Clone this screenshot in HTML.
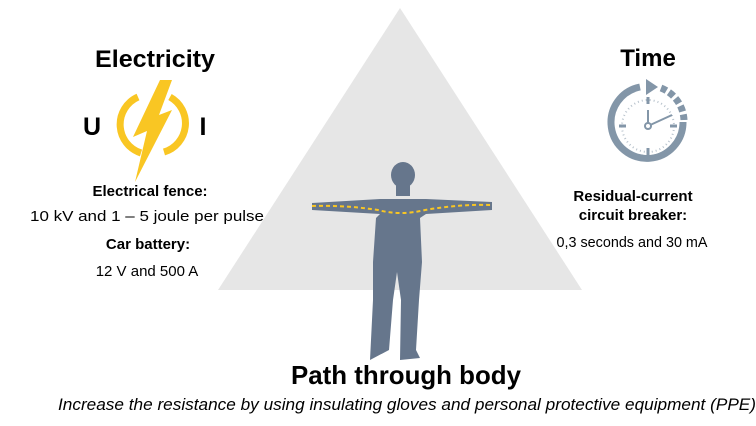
<!DOCTYPE html>
<html><head><style>body{margin:0;background:#fff}svg{display:block}</style></head><body>
<svg width="756" height="426" viewBox="0 0 756 426" xmlns="http://www.w3.org/2000/svg" font-family="Liberation Sans, Arial, sans-serif">
<polygon points="400,8 582,290 218,290" fill="#e6e6e6"/>
<!-- Electricity -->
<text x="155" y="67" font-size="24" font-weight="bold" text-anchor="middle" textLength="120" lengthAdjust="spacingAndGlyphs">Electricity</text>
<text x="92" y="135" font-size="25" font-weight="bold" text-anchor="middle">U</text>
<text x="203" y="135" font-size="25" font-weight="bold" text-anchor="middle">I</text>
<path d="M138,97 A30,30 0 0 0 141,153 M170,97 A30,30 0 0 1 164,152" fill="none" stroke="#f9c623" stroke-width="7"/>
<polygon points="160,80 172,80 159,115 172,110 135,182 147,131 133,137" fill="#f9c623"/>
<text x="150" y="196" font-size="15" font-weight="bold" text-anchor="middle">Electrical fence:</text>
<text x="147" y="221" font-size="15" text-anchor="middle" textLength="234" lengthAdjust="spacingAndGlyphs">10 kV and 1 – 5 joule per pulse</text>
<text x="148" y="249" font-size="15" font-weight="bold" text-anchor="middle">Car battery:</text>
<text x="147" y="276" font-size="15" text-anchor="middle">12 V and 500 A</text>
<!-- Time -->
<text x="648" y="66" font-size="24" font-weight="bold" text-anchor="middle">Time</text>
<path d="M683,122 A36,36 0 1 1 640,87" fill="none" stroke="#8396a8" stroke-width="7"/>
<polygon points="646,79 658,87 646,95" fill="#8396a8"/>
<path d="M661,88 A36,36 0 0 1 684,120" fill="none" stroke="#8396a8" stroke-width="7" stroke-dasharray="6,3"/>
<circle cx="648" cy="126" r="29" fill="#fff"/>
<circle cx="648" cy="126" r="26" fill="none" stroke="#b7c2cc" stroke-width="2" stroke-dasharray="1,3"/>
<g stroke="#8396a8" stroke-width="3"><line x1="648" y1="97" x2="648" y2="104"/><line x1="648" y1="148" x2="648" y2="155"/><line x1="619" y1="126" x2="626" y2="126"/><line x1="670" y1="126" x2="677" y2="126"/></g>
<g stroke="#8396a8" stroke-width="2"><line x1="648" y1="126" x2="648" y2="110"/><line x1="648" y1="126" x2="672" y2="115"/></g>
<circle cx="648" cy="126" r="3" fill="#fff" stroke="#8396a8" stroke-width="2"/>
<text x="633" y="201" font-size="15" font-weight="bold" text-anchor="middle">Residual-current</text>
<text x="633" y="220" font-size="15" font-weight="bold" text-anchor="middle">circuit breaker:</text>
<text x="632" y="247" font-size="15" text-anchor="middle" textLength="151" lengthAdjust="spacingAndGlyphs">0,3 seconds and 30 mA</text>
<!-- Person -->
<g fill="#66768c">
<ellipse cx="403" cy="175" rx="12" ry="13"/>
<rect x="396" y="184" width="14" height="12"/>
<path d="M312,203 L380,199 L426,199 L492,202 L492,210 L426,214 L420,218 L422,262 L419,300 L416,350 L420,358 L400,360 L401,300 L397,272 L393,300 L389,350 L370,360 L373,300 L373,262 L376,218 L380,214 L312,210 Z"/>
</g>
<path d="M312,206 Q345,205 378,210 Q400,216 425,210 Q460,204 492,205" fill="none" stroke="#f9c623" stroke-width="2" stroke-dasharray="4,3"/>
<text x="406" y="384" font-size="26" font-weight="bold" text-anchor="middle" textLength="230" lengthAdjust="spacingAndGlyphs">Path through body</text>
<text x="407" y="410" font-size="17" font-style="italic" text-anchor="middle" textLength="698" lengthAdjust="spacingAndGlyphs">Increase the resistance by using insulating gloves and personal protective equipment (PPE)</text>
</svg>
</body></html>
